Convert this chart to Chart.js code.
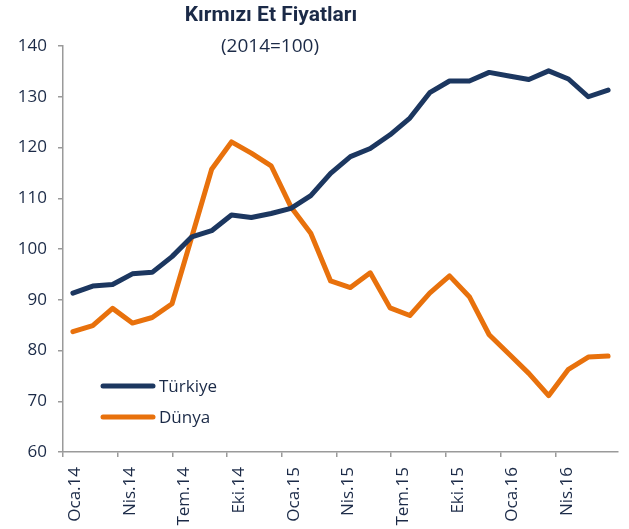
<!DOCTYPE html>
<html>
<head>
<meta charset="utf-8">
<script src="https://cdn.jsdelivr.net/npm/chart.js@4/dist/chart.umd.min.js"></script>
<style>
  body { margin: 0; background: #fff; }
  #wrap { width: 629px; height: 529px; }
</style>
</head>
<body>
<div id="wrap"><canvas id="myChart" width="629" height="529"></canvas></div>
<script>
// monthly index, 2014=100 (Oca.14 - Nis.16)
const monthNames = ["Oca", "Şub", "Mar", "Nis", "May", "Haz", "Tem", "Ağu", "Eyl", "Eki", "Kas", "Ara"];
const turkiye = [91.3, 92.7, 93.0, 95.1, 95.4, 98.5, 102.4, 103.6, 106.7, 106.2, 107.0, 108.0, 110.5, 114.9,
  118.2, 119.8, 122.5, 125.8, 130.8, 133.1, 133.1, 134.8, 134.1, 133.4, 135.1, 133.5, 130.0, 131.3];
const dunya = [83.7, 84.9, 88.3, 85.4, 86.5, 89.2, 102.4, 115.7, 121.1, 118.9, 116.4, 108.3, 103.1, 93.7,
  92.4, 95.3, 88.4, 86.9, 91.3, 94.7, 90.6, 83.1, 79.3, 75.5, 71.1, 76.3, 78.7, 78.9];
const tickLabels = ["Oca.14", "Nis.14", "Tem.14", "Eki.14", "Oca.15", "Nis.15", "Tem.15", "Eki.15", "Oca.16", "Nis.16"];
const seriesNames = ["Türkiye", "Dünya"];

const navy = "#1c3760";
const orange = "#e8710c";
const textColor = "#1b2a47";
const axisColor = "#9a9a9a";

// one category per month
const months = [];
for (let i = 0; i < turkiye.length; i++) {
  months.push(monthNames[i % 12] + "." + (14 + Math.floor(i / 12)));
}

// title + subtitle drawn by hand so they can sit over the plot top
const titlePlugin = {
  id: "titles",
  afterDraw(chart) {
    const ctx = chart.ctx;
    ctx.save();
    ctx.fillStyle = textColor;
    ctx.textAlign = "center";
    ctx.textBaseline = "middle";
    ctx.font = "bold 21px Roboto";
    ctx.fillText("Kırmızı Et Fiyatları", 271, 16);
    ctx.font = "19px 'Open Sans'";
    ctx.fillText("(2014=100)", 270, 47);
    ctx.restore();
  }
};

// legend inside the plot, lower left
const legendPlugin = {
  id: "innerLegend",
  afterDraw(chart) {
    const ctx = chart.ctx;
    const area = chart.chartArea;
    ctx.save();
    chart.data.datasets.forEach(function (ds, i) {
      const y = area.top + 340 + i * 31;
      ctx.strokeStyle = ds.borderColor;
      ctx.lineWidth = 5;
      ctx.lineCap = "round";
      ctx.beginPath();
      ctx.moveTo(area.left + 40, y);
      ctx.lineTo(area.left + 90, y);
      ctx.stroke();
      ctx.fillStyle = textColor;
      ctx.font = "17px 'Open Sans'";
      ctx.textAlign = "left";
      ctx.textBaseline = "middle";
      ctx.fillText(ds.label, area.left + 96, y + 1);
    });
    ctx.restore();
  }
};

new Chart("myChart", {
  type: "line",
  data: {
    labels: months,
    datasets: [
      { label: seriesNames[0], data: turkiye, borderColor: navy, backgroundColor: navy },
      { label: seriesNames[1], data: dunya, borderColor: orange, backgroundColor: orange }
    ]
  },
  options: {
    responsive: false,
    animation: false,
    events: [],
    layout: { padding: { top: 46, right: 11, left: 0, bottom: 0 } },
    elements: {
      line: { borderWidth: 5, tension: 0, borderCapStyle: "round", borderJoinStyle: "round", fill: false },
      point: { radius: 0 }
    },
    plugins: {
      legend: { display: false },
      tooltip: { enabled: false }
    },
    scales: {
      x: {
        type: "category",
        display: false,
        offset: true
      },
      x2: {
        type: "linear",
        position: "bottom",
        min: 0,
        max: 30.44,
        afterBuildTicks: function (scale) {
          scale.ticks = tickLabels.map(function (_, k) { return { value: 3 * k }; });
        },
        afterFit: function (scale) { scale.height = 77; },
        grid: { drawOnChartArea: false, tickLength: 5, tickColor: axisColor, lineWidth: 1.5 },
        border: { color: axisColor, width: 1.5 },
        ticks: {
          autoSkip: false,
          maxRotation: 90,
          minRotation: 90,
          labelOffset: 12,
          padding: 10,
          color: textColor,
          font: { family: "'Open Sans'", size: 17 },
          callback: function (value, index) { return tickLabels[index]; }
        }
      },
      y: {
        min: 60,
        max: 140,
        afterFit: function (scale) { scale.width = 63; },
        grid: { drawOnChartArea: false, tickLength: 5, tickColor: axisColor, lineWidth: 1.5 },
        border: { color: axisColor, width: 1.5 },
        ticks: {
          stepSize: 10,
          padding: 11,
          color: textColor,
          font: { family: "'Open Sans'", size: 17 }
        }
      }
    }
  },
  plugins: [titlePlugin, legendPlugin]
});
</script>
</body>
</html>
